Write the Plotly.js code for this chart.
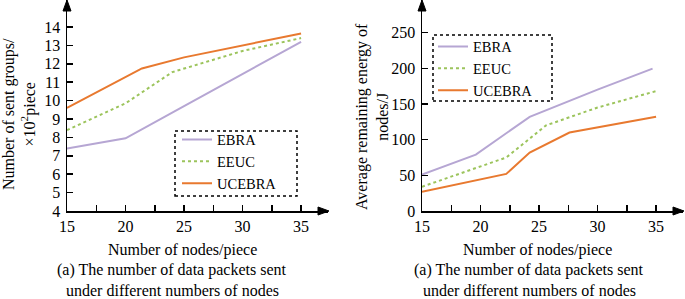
<!DOCTYPE html>
<html>
<head>
<meta charset="utf-8">
<script src="https://cdn.plot.ly/plotly-3.0.1.min.js"></script>
<style>html,body{margin:0;padding:0;background:#fff;}#chart{width:685px;height:299px;}</style>
</head>
<body>
<div id="chart"></div>
<script>
// ---- Data ----
const seriesNames = ["EBRA", "EEUC", "UCEBRA"];
const xTickVals = [15, 20, 25, 30, 35];

// Left panel: number of sent groups (×10^2 piece)
const leftEbraX   = [15, 20, 25, 30, 35];
const leftEbraY   = [7.4, 7.95, 9.7, 11.45, 13.2];
const leftEeucX   = [15, 20, 24, 30, 35];
const leftEeucY   = [8.4, 9.85, 11.55, 12.7, 13.4];
const leftUcebraX = [15, 21.4, 25, 30, 35];
const leftUcebraY = [9.6, 11.75, 12.35, 13.0, 13.65];
const leftYTicks  = [4, 5, 6, 7, 8, 9, 10, 11, 12, 13, 14];

// Right panel: average remaining energy of nodes (J)
const rightEbraX   = [15, 19.6, 24.2, 30, 34.7];
const rightEbraY   = [51, 79, 132, 170, 199.5];
const rightEeucX   = [15, 22.2, 25.6, 27.6, 30, 35];
const rightEeucY   = [34, 75, 120, 131, 145, 168];
const rightUcebraX = [15, 22.2, 24.2, 27.6, 35];
const rightUcebraY = [27, 52, 82, 110, 132];
const rightYTicks  = [0, 50, 100, 150, 200, 250];

// ---- Styling ----
const W = 685, H = 299;
const px = x => x / W;
const py = y => 1 - y / H;
const FONT = "Liberation Serif";
const FS = 16;
const colors = {EBRA: "#b6a6d3", EEUC: "#9cc45c", UCEBRA: "#e8792f"};
const dashes = {EBRA: "solid", EEUC: "dot", UCEBRA: "solid"};

function mk(x, y, name, xa, ya, leg) {
  return {x: x, y: y, name: name, type: "scatter", mode: "lines",
    xaxis: xa, yaxis: ya, legend: leg,
    line: {color: colors[name], width: 2, dash: dashes[name]}};
}
const data = [
  mk(leftEbraX, leftEbraY, "EBRA", "x", "y", "legend"),
  mk(leftEeucX, leftEeucY, "EEUC", "x", "y", "legend"),
  mk(leftUcebraX, leftUcebraY, "UCEBRA", "x", "y", "legend"),
  mk(rightEbraX, rightEbraY, "EBRA", "x2", "y2", "legend2"),
  mk(rightEeucX, rightEeucY, "EEUC", "x2", "y2", "legend2"),
  mk(rightUcebraX, rightUcebraY, "UCEBRA", "x2", "y2", "legend2")
];

const tickFont = {family: FONT, size: FS, color: "#000"};
function xAxis(domain, anchor) {
  return {domain: domain, anchor: anchor, range: [15, 37.3], showgrid: false, zeroline: false,
    showline: true, linecolor: "#000", linewidth: 1.5, ticks: "inside", ticklen: 6,
    tickwidth: 1.5, tickcolor: "#000", tickvals: xTickVals, tickfont: tickFont,
    minor: {dtick: 2.5, tick0: 15, ticks: "inside", ticklen: 6, tickwidth: 1.5, tickcolor: "#000", showgrid: false}};
}
function yAxis(range, ticks, anchor) {
  return {domain: [py(211), 1], anchor: anchor, range: range, showgrid: false, zeroline: false,
    showline: true, linecolor: "#000", linewidth: 1.5, ticks: "inside", ticklen: 6,
    tickwidth: 1.5, tickcolor: "#000", tickvals: ticks, tickfont: tickFont, ticklabelstandoff: 2};
}

const tri = (pts) => ({type: "path", xref: "paper", yref: "paper", fillcolor: "#000",
  line: {color: "#000", width: 1},
  path: "M" + pts.map(p => px(p[0]) + "," + py(p[1])).join("L") + "Z"});
const box = (x0, y0, x1, y1) => ({type: "rect", xref: "paper", yref: "paper",
  x0: px(x0), x1: px(x1), y0: py(y1), y1: py(y0), line: {color: "#000", width: 1.5, dash: "dot"}});

const ann = (x, y, text, extra) => Object.assign({xref: "paper", yref: "paper", x: px(x), y: py(y),
  text: text, showarrow: false, xanchor: "center", yanchor: "middle",
  font: {family: FONT, size: FS, color: "#000"}}, extra || {});

const legFont = {family: FONT, size: 14.5, color: "#000"};
const layout = {
  width: W, height: H, margin: {l: 0, r: 0, t: 0, b: 0},
  font: {family: FONT},
  paper_bgcolor: "#fff", plot_bgcolor: "rgba(0,0,0,0)",
  xaxis: xAxis([px(67), px(328)], "y"),
  yaxis: yAxis([4, 15.47], leftYTicks, "x"),
  xaxis2: xAxis([px(422), px(683)], "y2"),
  yaxis2: yAxis([0, 295.7], rightYTicks, "x2"),
  legend: {x: px(177), y: py(123.5), xanchor: "left", yanchor: "top", bgcolor: "rgba(0,0,0,0)",
    font: legFont, tracegroupgap: 0, itemwidth: 30},
  legend2: {x: px(433), y: py(30.5), xanchor: "left", yanchor: "top", bgcolor: "rgba(0,0,0,0)",
    font: legFont, tracegroupgap: 0, itemwidth: 30},
  shapes: [
    tri([[67, 0], [63, 11], [71, 11]]),
    tri([[329, 211], [318, 207], [318, 215]]),
    tri([[422, 0], [418, 11], [426, 11]]),
    tri([[684, 211], [673, 207], [673, 215]]),
    box(175, 131, 297, 196),
    box(433, 35, 552, 101)
  ],
  annotations: [
    ann(20, 114, "Number of sent groups/<br>×10<sup>2</sup>piece", {textangle: -90}),
    ann(372, 117, "Average remaining energy of<br>nodes/J", {textangle: -90}),
    ann(183, 250, "Number of nodes/piece"),
    ann(537, 250, "Number of nodes/piece"),
    ann(172, 270, "(a) The number of data packets sent"),
    ann(172, 290, "under different numbers of nodes"),
    ann(529, 270, "(a) The number of data packets sent"),
    ann(529, 290, "under different numbers of nodes")
  ]
};

Plotly.newPlot("chart", data, layout, {displayModeBar: false, staticPlot: true});
</script>
</body>
</html>
